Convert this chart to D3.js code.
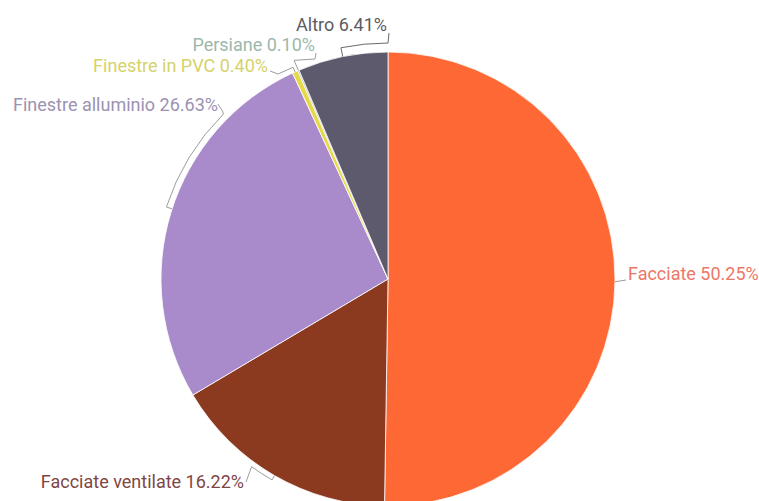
<!DOCTYPE html>
<html>
<head>
<meta charset="utf-8">
<script src="https://cdn.jsdelivr.net/npm/d3@7"></script>
<style>
  html, body { margin: 0; padding: 0; background: #fff; }
  svg { display: block; }
  .lbl { font-family: Roboto, "Noto Sans", sans-serif; font-size: 18px; }
  .leader { fill: none; stroke-width: 1; }
</style>
</head>
<body>
<div id="chart"></div>
<script>
// data
const categories = ["Facciate", "Facciate ventilate", "Finestre alluminio", "Finestre in PVC", "Persiane", "Altro"];
const shares = [50.25, 16.22, 26.63, 0.40, 0.10, 6.41];
const sliceColors = ["#fd6835", "#8b3a1f", "#a98bcb", "#e6d84a", "#8fb5a2", "#5d5a6e"];
const labelColors = ["#ec7768", "#7f4646", "#9c92b2", "#d6d26a", "#9cb8aa", "#5c5b64"];

const width = 759;
const height = 501;
const cx = 388, cy = 279, r = 227;

const svg = d3.select("#chart")
    .append("svg")
    .attr("width", width)
    .attr("height", height);

const pie = d3.pie().sort(null).value(d => d.v);
const arcs = pie(categories.map((c, i) => ({ c: c, v: shares[i], i: i })));

const arc = d3.arc().innerRadius(0).outerRadius(r);

const g = svg.append("g").attr("transform", "translate(" + cx + "," + cy + ")");

g.selectAll("path.slice")
    .data(arcs)
    .enter()
    .append("path")
    .attr("class", "slice")
    .attr("d", arc)
    .attr("fill", d => sliceColors[d.data.i])
    .attr("stroke", "#fff")
    .attr("stroke-width", 0.8);

// polar helper, angle in degrees clockwise from 12 o'clock, relative to center
function polar(deg, rr) {
  const a = deg * Math.PI / 180;
  return [rr * Math.sin(a), -rr * Math.cos(a)];
}
function mid(d) { return (d.startAngle + d.endAngle) / 2 * 180 / Math.PI; }
function rel(x, y) { return [x - cx, y - cy]; }

// leader line layout (bracket along the rim, then a link to the label)
const layout = [
  { text: [628, 280], anchor: "start",
    path: d => { const p = d3.path(); const a = polar(mid(d), r); p.moveTo(a[0], a[1] + 1); p.lineTo(...rel(626, 280)); return p; } },
  { text: [244, 488], anchor: "end",
    path: d => { const p = d3.path(); const a = polar(210, r), b = polar(210, r + 5);
      p.moveTo(...a); p.lineTo(...b);
      p.arc(0, 0, r + 5, (210 - 90) * Math.PI / 180, (216 - 90) * Math.PI / 180, false);
      p.lineTo(...rel(246, 482)); return p; } },
  { text: [218, 111], anchor: "end",
    path: d => { const p = d3.path(); const a = polar(288, r), b = polar(288, r + 6);
      p.moveTo(...a); p.lineTo(...b);
      p.arc(0, 0, r + 6, (288 - 90) * Math.PI / 180, (315 - 90) * Math.PI / 180, false);
      p.lineTo(...rel(223, 112)); p.lineTo(...rel(218, 104)); return p; } },
  { text: [268, 72], anchor: "end",
    path: d => { const p = d3.path(); const a = polar(mid(d), r), b = polar(mid(d), r + 5);
      p.moveTo(...a); p.lineTo(...b); p.lineTo(...rel(278, 74)); p.lineTo(...rel(270, 71)); return p; } },
  { text: [315, 51], anchor: "end",
    path: d => { const p = d3.path(); const a = polar(mid(d), r), b = polar(mid(d), r + 11);
      p.moveTo(...a); p.lineTo(...b); p.lineTo(...rel(315, 59)); p.lineTo(...rel(316, 53)); return p; } },
  { text: [387, 31], anchor: "end",
    path: d => { const p = d3.path(); const a = polar(348.5, r), b = polar(348.5, r + 9);
      p.moveTo(...a); p.lineTo(...b);
      p.arc(0, 0, r + 9, (348.5 - 90) * Math.PI / 180, (360 - 90) * Math.PI / 180, false);
      p.lineTo(...rel(389, 33)); return p; } }
];

g.selectAll("path.leader")
    .data(arcs)
    .enter()
    .append("path")
    .attr("class", "leader")
    .attr("d", d => layout[d.data.i].path(d).toString())
    .attr("stroke", d => d.data.i === 5 ? "#6a6a70" : "#9c9c9c");

svg.selectAll("text.lbl")
    .data(arcs)
    .enter()
    .append("text")
    .attr("class", "lbl")
    .attr("x", d => layout[d.data.i].text[0])
    .attr("y", d => layout[d.data.i].text[1])
    .attr("text-anchor", d => layout[d.data.i].anchor)
    .attr("fill", d => labelColors[d.data.i])
    .text(d => d.data.c + " " + d.data.v.toFixed(2) + "%");
</script>
</body>
</html>
